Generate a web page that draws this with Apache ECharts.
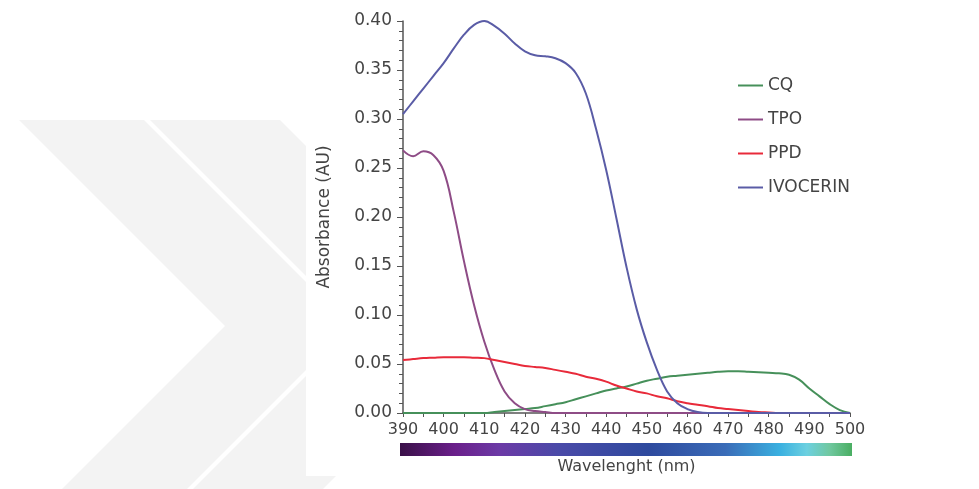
<!DOCTYPE html>
<html>
<head>
<meta charset="utf-8">
<title>Absorbance spectra</title>
<script src="https://cdn.jsdelivr.net/npm/echarts@6/dist/echarts.min.js"></script>
<style>
  html, body { margin: 0; padding: 0; background: #ffffff; }
  #chart { width: 979px; height: 489px; }
</style>
</head>
<body>
<div id="chart"></div>
<script>
// Wavelength sampling (nm), shared by all spectra
const wavelengths = [390, 392.5, 395, 397.5, 400, 402.5, 405, 407.5, 410, 412.5,
  415, 417.5, 420, 422.5, 425, 427.5, 430, 432.5, 435, 437.5,
  440, 442.5, 445, 447.5, 450, 452.5, 455, 457.5, 460, 462.5,
  465, 467.5, 470, 472.5, 475, 477.5, 480, 482.5, 485, 487.5,
  490, 492.5, 495, 497.5, 500];

// Absorbance (AU) of each photoinitiator
const cq = [0, 0, 0, 0, 0, 0, 0, 0, 0, 0.001,
  0.002, 0.003, 0.004, 0.005, 0.007, 0.009, 0.011, 0.014, 0.017, 0.020,
  0.023, 0.025, 0.027, 0.030, 0.033, 0.035, 0.037, 0.038, 0.039, 0.040,
  0.041, 0.042, 0.0425, 0.0425, 0.042, 0.0415, 0.041, 0.0405, 0.039, 0.034,
  0.025, 0.017, 0.009, 0.003, 0];
const tpo = [0.268, 0.262, 0.267, 0.263, 0.247, 0.205, 0.155, 0.110, 0.073, 0.044,
  0.022, 0.010, 0.004, 0.002, 0.001, 0, 0, 0, 0, 0,
  0, 0, 0, 0, 0, 0, 0, 0, 0, 0,
  0, 0, 0, 0, 0, 0, 0, 0, 0, 0,
  0, 0, 0, 0, 0];
const ppd = [0.054, 0.055, 0.056, 0.0565, 0.057, 0.057, 0.057, 0.0565, 0.056, 0.054,
  0.052, 0.050, 0.048, 0.047, 0.046, 0.044, 0.042, 0.040, 0.037, 0.035,
  0.032, 0.028, 0.025, 0.022, 0.020, 0.017, 0.015, 0.012, 0.010, 0.0085,
  0.007, 0.005, 0.004, 0.003, 0.002, 0.001, 0.0005, 0, 0, 0,
  0, 0, 0, 0, 0];
const ivocerin = [0.305, 0.318, 0.331, 0.344, 0.357, 0.372, 0.386, 0.396, 0.400, 0.395,
  0.387, 0.377, 0.369, 0.365, 0.364, 0.362, 0.357, 0.347, 0.326, 0.290,
  0.248, 0.199, 0.149, 0.106, 0.072, 0.044, 0.022, 0.010, 0.004, 0.001,
  0, 0, 0, 0, 0, 0, 0, 0, 0, 0,
  0, 0, 0, 0, 0];

const seriesNames = ['CQ', 'TPO', 'PPD', 'IVOCERIN'];
const seriesValues = [cq, tpo, ppd, ivocerin];
const seriesColors = ['#46905a', '#8e4c86', '#e82a3a', '#5a5ca6'];

const FONT = 'DejaVu Sans';
const TEXT = '#444444';
const AXIS = '#555555';

const chart = echarts.init(document.getElementById('chart'), null, { renderer: 'canvas' });

function pairs(values) {
  return wavelengths.map((w, i) => [w, values[i]]);
}

// Faint grey chevron watermark behind the white figure panel
function chevron(x0, w) {
  return [[x0, 120], [x0 + w, 120], [x0 + w + 206, 326], [x0 + w + 43, 489],
          [x0 + 43, 489], [x0 + 206, 326]];
}
const WATERMARK = '#f3f3f3';
const backdrop = [
  { type: 'polygon', z: -100, silent: true, shape: { points: chevron(19, 125) }, style: { fill: WATERMARK } },
  { type: 'polygon', z: -100, silent: true, shape: { points: chevron(150, 130) }, style: { fill: WATERMARK } },
  { type: 'rect', z: -90, silent: true, shape: { x: 306, y: 0, width: 607, height: 476 }, style: { fill: '#ffffff' } }
];

chart.setOption({
  animation: false,
  backgroundColor: '#ffffff',
  textStyle: { fontFamily: FONT, color: TEXT },
  grid: { left: 403, right: 129, top: 21, bottom: 76, containLabel: false },
  legend: {
    orient: 'vertical',
    left: 738,
    top: 77,
    padding: 0,
    itemGap: 17,
    itemWidth: 25,
    itemHeight: 2,
    icon: 'rect',
    data: seriesNames,
    textStyle: { fontFamily: FONT, fontSize: 17, color: TEXT }
  },
  xAxis: {
    type: 'value',
    min: 390,
    max: 500,
    interval: 10,
    name: 'Wavelenght (nm)',
    nameLocation: 'middle',
    nameGap: 46,
    nameTextStyle: { fontFamily: FONT, fontSize: 16, color: TEXT },
    axisLine: { show: true, lineStyle: { color: AXIS, width: 1.5 } },
    axisTick: { show: true, inside: false, length: 4, lineStyle: { color: AXIS } },
    minorTick: { show: true, splitNumber: 2, length: 4, lineStyle: { color: AXIS } },
    axisLabel: { fontFamily: FONT, fontSize: 16, color: TEXT, margin: 9 },
    splitLine: { show: false }
  },
  yAxis: {
    type: 'value',
    min: 0,
    max: 0.4,
    interval: 0.05,
    name: 'Absorbance (AU)',
    nameLocation: 'middle',
    nameGap: 70,
    nameTextStyle: { fontFamily: FONT, fontSize: 17, color: TEXT },
    axisLine: { show: true, lineStyle: { color: AXIS, width: 1.5 } },
    axisTick: { show: true, inside: false, length: 6, lineStyle: { color: AXIS } },
    minorTick: { show: true, splitNumber: 5, length: 4, lineStyle: { color: AXIS } },
    axisLabel: {
      fontFamily: FONT, fontSize: 17, color: TEXT, margin: 11,
      formatter: v => v.toFixed(2)
    },
    splitLine: { show: false }
  },
  series: seriesNames.map((name, i) => ({
    name: name,
    type: 'line',
    data: pairs(seriesValues[i]),
    smooth: 0.4,
    showSymbol: false,
    symbol: 'none',
    color: seriesColors[i],
    lineStyle: { width: 2, color: seriesColors[i] },
    z: 3 + i
  }))
});

// Spectrum strip under the wavelength axis, spanning 390–500 nm
const left = chart.convertToPixel({ xAxisIndex: 0 }, 390);
const right = chart.convertToPixel({ xAxisIndex: 0 }, 500);
const base = chart.convertToPixel({ yAxisIndex: 0 }, 0);

chart.setOption({
  graphic: backdrop.concat([
    {
      type: 'rect',
      z: 10,
      silent: true,
      shape: { x: left - 3, y: base + 30, width: right - left + 5, height: 13 },
      style: {
        fill: new echarts.graphic.LinearGradient(0, 0, 1, 0, [
          { offset: 0.00, color: '#3a1048' },
          { offset: 0.12, color: '#6a1f8a' },
          { offset: 0.22, color: '#6c3aa6' },
          { offset: 0.35, color: '#4a4aa8' },
          { offset: 0.55, color: '#2e4a9e' },
          { offset: 0.72, color: '#3a6cb8' },
          { offset: 0.84, color: '#3ab0e0' },
          { offset: 0.90, color: '#6cd0e0' },
          { offset: 0.95, color: '#70c8a0' },
          { offset: 1.00, color: '#4aae62' }
        ])
      }
    }
  ])
});
</script>
</body>
</html>
